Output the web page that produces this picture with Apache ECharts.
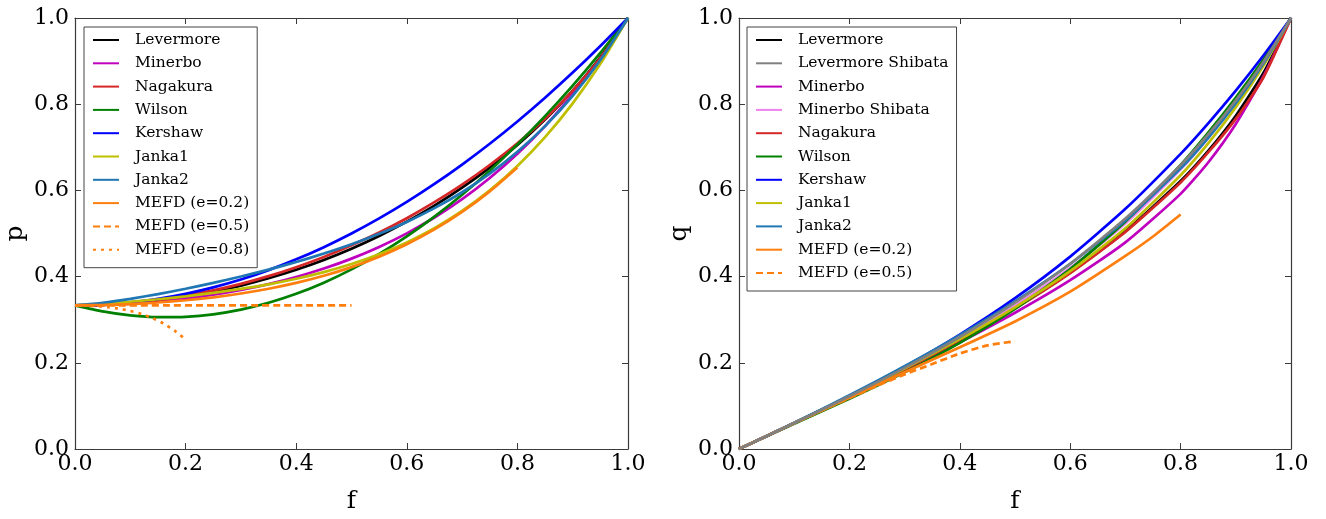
<!DOCTYPE html>
<html>
<head>
<meta charset="utf-8">
<script src="https://cdn.jsdelivr.net/npm/echarts@6/dist/echarts.min.js"></script>
<style>
  html, body { margin: 0; padding: 0; background: #fff; }
  #chart { width: 1326px; height: 519px; }
</style>
</head>
<body>
<div id="chart"></div>
<script>
// Flux factor grid for the Eddington factor panel
const F_P = [0, 0.05, 0.1, 0.15, 0.2, 0.25, 0.3, 0.35, 0.4, 0.45, 0.5,
             0.55, 0.6, 0.65, 0.7, 0.75, 0.8, 0.85, 0.9, 0.95, 1];
// Eddington factor p(f) for each closure
const LEV_P = [0.3333, 0.3346, 0.3383, 0.3446, 0.3535, 0.3650, 0.3791, 0.3961, 0.4159, 0.4387, 0.4648,
               0.4943, 0.5275, 0.5647, 0.6063, 0.6529, 0.7052, 0.7642, 0.8313, 0.9088, 1];
const MIN_P = [0.3333, 0.3343, 0.3372, 0.3421, 0.3489, 0.3578, 0.3690, 0.3826, 0.3990, 0.4186, 0.4417,
               0.4688, 0.5004, 0.5371, 0.5796, 0.6287, 0.6849, 0.7493, 0.8226, 0.9058, 1];
const NAG_P = [0.3333, 0.3346, 0.3388, 0.3456, 0.3555, 0.3680, 0.3831, 0.4011, 0.4219, 0.4457, 0.4728,
               0.5023, 0.5355, 0.5727, 0.6133, 0.6589, 0.7092, 0.7662, 0.8313, 0.9068, 1];
const WIL_P = [0.3333, 0.3192, 0.3100, 0.3058, 0.3067, 0.3125, 0.3233, 0.3392, 0.3600, 0.3858, 0.4167,
               0.4525, 0.4933, 0.5392, 0.5900, 0.6458, 0.7067, 0.7725, 0.8433, 0.9192, 1];
const KER_P = [0.3333, 0.3350, 0.3400, 0.3483, 0.3600, 0.3750, 0.3933, 0.4150, 0.4400, 0.4683, 0.5000,
               0.5350, 0.5733, 0.6150, 0.6600, 0.7083, 0.7600, 0.8150, 0.8733, 0.9350, 1];
const JA1_P = [0.3333, 0.3367, 0.3416, 0.3475, 0.3543, 0.3622, 0.3714, 0.3821, 0.3950, 0.4105, 0.4292,
               0.4519, 0.4794, 0.5125, 0.5524, 0.6000, 0.6566, 0.7235, 0.8020, 0.8937, 1];
const JA2_P = [0.3333, 0.3393, 0.3484, 0.3594, 0.3717, 0.3853, 0.4002, 0.4163, 0.4339, 0.4534, 0.4750,
               0.4993, 0.5269, 0.5588, 0.5957, 0.6388, 0.6895, 0.7491, 0.8195, 0.9024, 1];
// Maximum-entropy Fermi-Dirac closures (each stops near f = 1 - e)
const F_MEFD02_P = [0, 0.05, 0.1, 0.15, 0.2, 0.25, 0.3, 0.35, 0.4, 0.45, 0.5, 0.55, 0.6, 0.65, 0.7, 0.75, 0.8];
const MEFD02_P = [0.3333, 0.3341, 0.3363, 0.3399, 0.3451, 0.3520, 0.3608, 0.3718, 0.3853, 0.4019, 0.4220,
                  0.4462, 0.4751, 0.5094, 0.5500, 0.5977, 0.6533];
const F_MEFD05_P = [0, 0.5];
const MEFD05_P = [0.3333, 0.3333];
const F_MEFD08_P = [0, 0.02, 0.04, 0.06, 0.08, 0.1, 0.12, 0.14, 0.16, 0.18, 0.19, 0.195];
const MEFD08_P = [0.3333, 0.3329, 0.3315, 0.3291, 0.3255, 0.3203, 0.3133, 0.3038, 0.2911, 0.2746, 0.2646, 0.2591];

// Flux factor grid for the third-moment panel
const F_Q = [0, 0.1, 0.2, 0.3, 0.4, 0.5, 0.6, 0.7, 0.8, 0.85, 0.9, 0.95, 1];
const LEV_Q   = [0, 0.0602, 0.1216, 0.1855, 0.2536, 0.3271, 0.4097, 0.5056, 0.6216, 0.6915, 0.7731, 0.8724, 1];
const LEVSH_Q = [0, 0.0603, 0.1224, 0.1882, 0.2598, 0.3395, 0.4299, 0.5346, 0.6585, 0.7297, 0.8089, 0.8980, 1];
const MIN_Q   = [0, 0.0596, 0.1198, 0.1831, 0.2476, 0.3161, 0.3916, 0.4794, 0.5920, 0.6648, 0.7540, 0.8643, 1];
const MINSH_Q = [0, 0.0602, 0.1219, 0.1864, 0.2558, 0.3325, 0.4201, 0.5235, 0.6488, 0.7221, 0.8042, 0.8963, 1];
const NAG_Q   = [0, 0.0601, 0.1214, 0.1851, 0.2530, 0.3262, 0.4083, 0.5035, 0.6185, 0.6880, 0.7660, 0.8620, 1];
const WIL_Q   = [0, 0.0586, 0.1168, 0.1782, 0.2464, 0.3250, 0.4176, 0.5278, 0.6592, 0.7340, 0.8154, 0.9039, 1];
const KER_Q   = [0, 0.0604, 0.1232, 0.1908, 0.2656, 0.3500, 0.4464, 0.5572, 0.6848, 0.7557, 0.8316, 0.9130, 1];
const JA1_Q   = [0, 0.0605, 0.1225, 0.1868, 0.2548, 0.3288, 0.4126, 0.5120, 0.6352, 0.7090, 0.7931, 0.8894, 1];
const JA2_Q   = [0, 0.0609, 0.1246, 0.1920, 0.2642, 0.3425, 0.4297, 0.5302, 0.6510, 0.7221, 0.8025, 0.8944, 1];
const F_MEFD02_Q = [0, 0.1, 0.2, 0.3, 0.4, 0.5, 0.6, 0.7, 0.75, 0.8];
const MEFD02_Q = [0, 0.060, 0.119, 0.178, 0.236, 0.296, 0.365, 0.448, 0.493, 0.544];
const F_MEFD05_Q = [0, 0.05, 0.1, 0.15, 0.2, 0.25, 0.3, 0.35, 0.4, 0.45, 0.5];
const MEFD05_Q = [0, 0.030, 0.0599, 0.0893, 0.1180, 0.1465, 0.1728, 0.1972, 0.2216, 0.2405, 0.2500];

const LEFT_LEGEND = ['Levermore', 'Minerbo', 'Nagakura', 'Wilson', 'Kershaw', 'Janka1', 'Janka2',
                     'MEFD (e=0.2)', 'MEFD (e=0.5)', 'MEFD (e=0.8)'];
const RIGHT_LEGEND = ['Levermore', 'Levermore Shibata', 'Minerbo', 'Minerbo Shibata', 'Nagakura', 'Wilson',
                      'Kershaw', 'Janka1', 'Janka2', 'MEFD (e=0.2)', 'MEFD (e=0.5)'];

const COLORS = {
  'Levermore': '#000000',
  'Levermore Shibata': '#808080',
  'Minerbo': '#bf00bf',
  'Minerbo Shibata': '#ee82ee',
  'Nagakura': '#d62728',
  'Wilson': '#008000',
  'Kershaw': '#0000ff',
  'Janka1': '#bfbf00',
  'Janka2': '#1f77b4',
  'MEFD (e=0.2)': '#ff7f0e',
  'MEFD (e=0.5)': '#ff7f0e',
  'MEFD (e=0.8)': '#ff7f0e'
};

const FONT = 'DejaVu Serif';
const zip = (xs, ys) => xs.map((x, i) => [x, ys[i]]);

function line(name, xs, ys, panel, type, z) {
  return {
    name: name,
    type: 'line',
    xAxisIndex: panel * 2,
    yAxisIndex: panel * 2,
    data: zip(xs, ys),
    symbol: 'none',
    showSymbol: false,
    smooth: 0.2,
    z: z || 2,
    lineStyle: { color: COLORS[name], width: 2.7, type: type || 'solid', cap: 'butt' },
    itemStyle: { color: COLORS[name] },
    emphasis: { disabled: true },
    animation: false
  };
}

function xAxes(grid, withName) {
  const common = {
    gridIndex: grid, type: 'value', min: 0, max: 1, interval: 0.2,
    axisLine: { onZero: false, lineStyle: { color: '#3a3a3a', width: 1.2 } },
    axisTick: { inside: true, length: 6, lineStyle: { color: '#3a3a3a', width: 1 } },
    splitLine: { show: false }
  };
  return [
    Object.assign({}, common, {
      position: 'bottom',
      axisLabel: { color: '#000', fontFamily: FONT, fontSize: 22, margin: 4,
                   formatter: v => v.toFixed(1) },
      name: withName, nameLocation: 'middle', nameGap: 40,
      nameTextStyle: { color: '#000', fontFamily: FONT, fontSize: 25 }
    }),
    Object.assign({}, common, { position: 'top', axisLabel: { show: false } })
  ];
}

function yAxes(grid, withName) {
  const common = {
    gridIndex: grid, type: 'value', min: 0, max: 1, interval: 0.2,
    axisLine: { onZero: false, lineStyle: { color: '#3a3a3a', width: 1.2 } },
    axisTick: { inside: true, length: 6, lineStyle: { color: '#3a3a3a', width: 1 } },
    splitLine: { show: false }
  };
  return [
    Object.assign({}, common, {
      position: 'left',
      axisLabel: { color: '#000', fontFamily: FONT, fontSize: 22, margin: 6,
                   formatter: v => v.toFixed(1) },
      name: withName, nameLocation: 'middle', nameGap: 47, nameRotate: 90,
      nameTextStyle: { color: '#000', fontFamily: FONT, fontSize: 25 }
    }),
    Object.assign({}, common, { position: 'right', axisLabel: { show: false } })
  ];
}

function legend(names, left) {
  return {
    data: names,
    orient: 'vertical',
    left: left, top: 27,
    padding: [4, 8, 9, 8],
    itemWidth: 26, itemHeight: 14, itemGap: 5.3,
    backgroundColor: '#fff',
    borderColor: '#444', borderWidth: 1, borderRadius: 0,
    selectedMode: false,
    itemStyle: { opacity: 0 },
    textStyle: { color: '#000', fontFamily: FONT, fontSize: 15.5, lineHeight: 18, padding: [0, 0, 0, 11] }
  };
}

const series = [
  line('Levermore', F_P, LEV_P, 0),
  line('Minerbo', F_P, MIN_P, 0),
  line('Nagakura', F_P, NAG_P, 0),
  line('Wilson', F_P, WIL_P, 0),
  line('Kershaw', F_P, KER_P, 0),
  line('Janka1', F_P, JA1_P, 0),
  line('Janka2', F_P, JA2_P, 0),
  line('MEFD (e=0.2)', F_MEFD02_P, MEFD02_P, 0),
  line('MEFD (e=0.5)', F_MEFD05_P, MEFD05_P, 0, [7, 4]),
  line('MEFD (e=0.8)', F_MEFD08_P, MEFD08_P, 0, [3, 5]),

  line('Levermore', F_Q, LEV_Q, 1),
  line('Minerbo', F_Q, MIN_Q, 1),
  line('Minerbo Shibata', F_Q, MINSH_Q, 1),
  line('Nagakura', F_Q, NAG_Q, 1),
  line('Wilson', F_Q, WIL_Q, 1),
  line('Kershaw', F_Q, KER_Q, 1),
  line('Janka1', F_Q, JA1_Q, 1),
  line('Janka2', F_Q, JA2_Q, 1),
  line('MEFD (e=0.2)', F_MEFD02_Q, MEFD02_Q, 1),
  line('MEFD (e=0.5)', F_MEFD05_Q, MEFD05_Q, 1, [7, 4]),
  line('Levermore Shibata', F_Q, LEVSH_Q, 1, 'solid', 3)
];

const chart = echarts.init(document.getElementById('chart'), null, { renderer: 'canvas' });
chart.setOption({
  backgroundColor: '#fff',
  animation: false,
  grid: [
    { left: 75, top: 18, width: 553, height: 443 },
    { left: 739, top: 18, width: 552, height: 443 }
  ],
  xAxis: [].concat(xAxes(0, 'f'), xAxes(1, 'f')),
  yAxis: [].concat(yAxes(0, 'p'), yAxes(1, 'q')),
  legend: [legend(LEFT_LEGEND, 84), legend(RIGHT_LEGEND, 747)],
  series: series
});
</script>
</body>
</html>
